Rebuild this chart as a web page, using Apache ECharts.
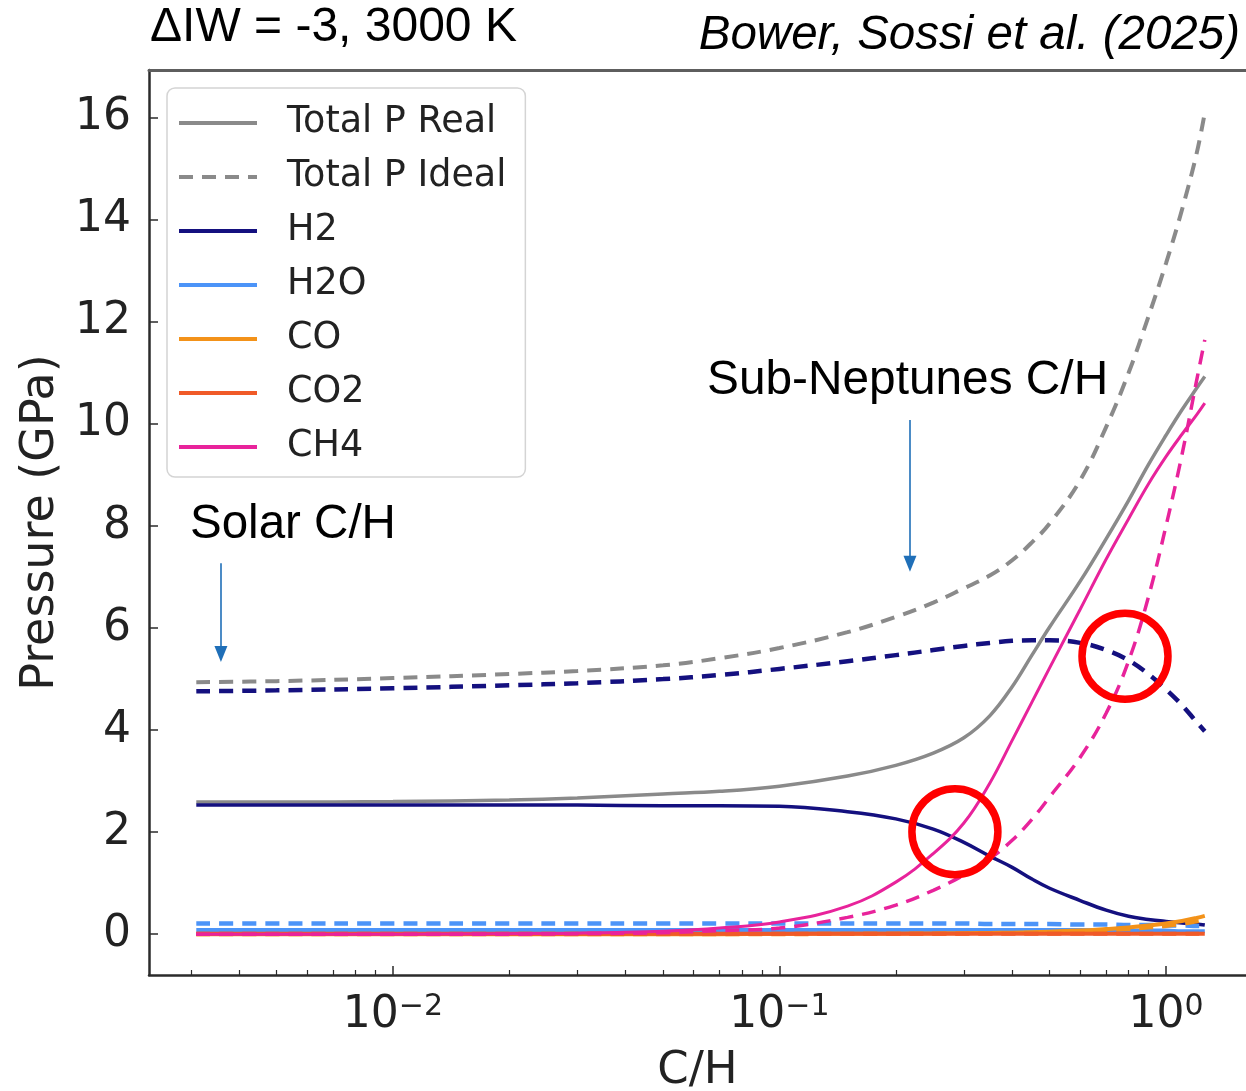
<!DOCTYPE html>
<html>
<head>
<meta charset="utf-8">
<script src="https://cdn.jsdelivr.net/npm/echarts@6/dist/echarts.min.js"></script>
<style>
  html, body { margin: 0; padding: 0; background: #ffffff; }
  #chart { width: 1246px; height: 1091px; }
</style>
</head>
<body>
<div id="chart"></div>
<script>
// C/H ratio sampled along the x axis
const chRatio = [0.0031, 0.005, 0.01, 0.02, 0.03, 0.05, 0.07, 0.1, 0.15, 0.2, 0.25, 0.3,
                 0.35, 0.4, 0.45, 0.5, 0.6, 0.7, 0.8, 0.9, 1.0, 1.1, 1.2, 1.26];

// Pressures in GPa (real gas = solid, ideal gas = dashed)
const totalReal  = [2.59, 2.59, 2.60, 2.63, 2.67, 2.75, 2.80, 2.90, 3.10, 3.31, 3.55, 3.85,
                    4.28, 4.85, 5.47, 6.02, 6.92, 7.75, 8.50, 9.20, 9.78, 10.28, 10.70, 10.93];
const totalIdeal = [4.94, 4.96, 5.02, 5.10, 5.16, 5.27, 5.41, 5.61, 5.92, 6.22, 6.50, 6.78,
                    7.03, 7.33, 7.68, 8.05, 8.90, 9.94, 11.0, 12.1, 13.15, 14.2, 15.3, 16.1];
const h2Real     = [2.53, 2.53, 2.53, 2.53, 2.53, 2.52, 2.52, 2.51, 2.40, 2.26, 2.06, 1.80,
                    1.53, 1.31, 1.08, 0.90, 0.66, 0.47, 0.35, 0.29, 0.25, 0.22, 0.20, 0.18];
const h2Ideal    = [4.76, 4.78, 4.82, 4.88, 4.92, 5.00, 5.08, 5.20, 5.35, 5.47, 5.57, 5.65,
                    5.71, 5.75, 5.76, 5.76, 5.71, 5.57, 5.37, 5.10, 4.80, 4.49, 4.16, 3.98];
const h2oReal    = [0.08, 0.08, 0.08, 0.08, 0.08, 0.08, 0.08, 0.08, 0.08, 0.08, 0.08, 0.08,
                    0.08, 0.08, 0.08, 0.08, 0.08, 0.07, 0.07, 0.07, 0.07, 0.06, 0.06, 0.06];
const h2oIdeal   = [0.21, 0.21, 0.21, 0.21, 0.21, 0.21, 0.21, 0.21, 0.21, 0.21, 0.21, 0.21,
                    0.20, 0.20, 0.20, 0.20, 0.19, 0.19, 0.18, 0.18, 0.17, 0.17, 0.16, 0.16];
const coReal     = [0.00, 0.00, 0.00, 0.00, 0.00, 0.00, 0.00, 0.005, 0.01, 0.01, 0.015, 0.02,
                    0.025, 0.03, 0.04, 0.05, 0.07, 0.10, 0.13, 0.17, 0.21, 0.26, 0.32, 0.36];
const coIdeal    = [0.00, 0.00, 0.00, 0.00, 0.00, 0.00, 0.00, 0.00, 0.005, 0.01, 0.01, 0.015,
                    0.02, 0.025, 0.03, 0.04, 0.06, 0.08, 0.10, 0.13, 0.16, 0.20, 0.25, 0.28];
const co2Real    = [0.01, 0.01, 0.01, 0.01, 0.01, 0.01, 0.01, 0.01, 0.01, 0.01, 0.01, 0.01,
                    0.01, 0.01, 0.01, 0.01, 0.01, 0.01, 0.01, 0.01, 0.01, 0.01, 0.01, 0.01];
const co2Ideal   = [0.01, 0.01, 0.01, 0.01, 0.01, 0.01, 0.01, 0.01, 0.01, 0.01, 0.01, 0.01,
                    0.01, 0.01, 0.01, 0.01, 0.01, 0.01, 0.01, 0.01, 0.01, 0.01, 0.01, 0.01];
const ch4Real    = [0.00, 0.00, 0.00, 0.01, 0.02, 0.06, 0.12, 0.24, 0.55, 1.02, 1.58, 2.18,
                    2.96, 3.80, 4.55, 5.22, 6.37, 7.35, 8.14, 8.82, 9.36, 9.80, 10.18, 10.41];
const ch4Ideal   = [0.00, 0.00, 0.00, 0.00, 0.01, 0.03, 0.07, 0.12, 0.33, 0.57, 0.86, 1.16,
                    1.48, 1.84, 2.25, 2.69, 3.47, 4.33, 5.35, 6.60, 8.00, 9.40, 10.85, 11.65];

// Axis ticks
const yTicks = [0, 2, 4, 6, 8, 10, 12, 14, 16];
const xMajorTicks = [0.01, 0.1, 1];
const xMinorTicks = [0.003, 0.004, 0.005, 0.006, 0.007, 0.008, 0.009,
                     0.02, 0.03, 0.04, 0.05, 0.06, 0.07, 0.08, 0.09,
                     0.2, 0.3, 0.4, 0.5, 0.6, 0.7, 0.8, 0.9];

// Annotations: arrows (C/H, top pressure, tip pressure) and highlight circles
const arrowCH  = [0.00359, 0.2176];
const arrowTop = [7.27, 10.08];
const arrowTip = [5.49, 7.26];
const circleCH = [0.2844, 0.7834];
const circleP  = [2.01, 5.45];

const legendNames = ['Total P Real', 'Total P Ideal', 'H2', 'H2O', 'CO', 'CO2', 'CH4'];

const COLORS = {
  total: '#8a8a8a',
  h2: '#14107f',
  h2o: '#4c94f8',
  co: '#f39219',
  co2: '#f05a28',
  ch4: '#e8239b'
};

const lg = v => Math.log10(v);
const X_MIN = -2.631, X_MAX = 0.207;
const TICK_FONT = 'DejaVu Sans';
const ANNOT_FONT = '"Liberation Sans", Arial, sans-serif';

function toPoints(values) {
  return chRatio.map((c, i) => [lg(c), values[i]]);
}

function lineSeries(name, values, color, dashed, width) {
  return {
    type: 'line',
    name: name,
    data: toPoints(values),
    xAxisIndex: 0,
    yAxisIndex: 0,
    symbol: 'none',
    smooth: 0.4,
    silent: true,
    emphasis: { disabled: true },
    lineStyle: { color: color, width: width, type: dashed ? [14, 9] : 'solid', cap: 'butt' },
    itemStyle: { color: color }
  };
}

const series = [
  lineSeries('Total P Real',  totalReal,  COLORS.total, false, 3.5),
  lineSeries('Total P Ideal', totalIdeal, COLORS.total, true,  4),
  lineSeries('H2',            h2Real,     COLORS.h2,    false, 3.5),
  lineSeries('H2 (ideal)',    h2Ideal,    COLORS.h2,    true,  4.5),
  lineSeries('H2O',           h2oReal,    COLORS.h2o,   false, 4),
  lineSeries('H2O (ideal)',   h2oIdeal,   COLORS.h2o,   true,  4.5),
  lineSeries('CO',            coReal,     COLORS.co,    false, 4),
  lineSeries('CO (ideal)',    coIdeal,    COLORS.co,    true,  4),
  lineSeries('CO2',           co2Real,    COLORS.co2,   false, 4),
  lineSeries('CO2 (ideal)',   co2Ideal,   COLORS.co2,   true,  4),
  lineSeries('CH4',           ch4Real,    COLORS.ch4,   false, 3),
  lineSeries('CH4 (ideal)',   ch4Ideal,   COLORS.ch4,   true,  3.5),
  {
    type: 'scatter',
    name: 'highlights',
    xAxisIndex: 0,
    yAxisIndex: 0,
    silent: true,
    z: 5,
    symbol: 'circle',
    symbolSize: 86,
    emphasis: { disabled: true },
    itemStyle: { color: 'rgba(255,255,255,0)', borderColor: '#ff0000', borderWidth: 7.5, opacity: 1 },
    data: circleCH.map((c, i) => [lg(c), circleP[i]]),
    markLine: {
      silent: true,
      animation: false,
      symbol: ['none', 'triangle'],
      symbolSize: [13, 16],
      label: { show: false },
      emphasis: { disabled: true },
      lineStyle: { color: '#1f6fb8', width: 1.6, type: 'solid', opacity: 1 },
      data: arrowCH.map((c, i) => [
        { coord: [lg(c), arrowTop[i]] },
        { coord: [lg(c), arrowTip[i]] }
      ])
    }
  }
];

const supMap = { '-2': '−2', '-1': '−1', '0': '0' };

const option = {
  animation: false,
  backgroundColor: '#ffffff',
  grid: { left: 149, right: 0, top: 70, bottom: 116, containLabel: false, outerBoundsMode: 'none' },
  xAxis: [
    {
      type: 'value',
      position: 'bottom',
      min: X_MIN,
      max: X_MAX,
      axisLine: { show: true, onZero: false, lineStyle: { color: '#2b2b2b', width: 2.5 } },
      axisTick: {
        show: true, inside: true, length: 9,
        customValues: xMajorTicks.map(lg),
        lineStyle: { color: '#2b2b2b', width: 1.5 }
      },
      axisLabel: {
        show: true,
        margin: 17,
        customValues: xMajorTicks.map(lg),
        formatter: v => '{b|10}{s|' + supMap[String(Math.round(v))] + '}',
        rich: {
          b: { fontFamily: TICK_FONT, fontSize: 44, lineHeight: 48, color: '#222' },
          s: { fontFamily: TICK_FONT, fontSize: 30, lineHeight: 18, verticalAlign: 'top', color: '#222' }
        }
      },
      splitLine: { show: false },
      name: 'C/H',
      nameLocation: 'middle',
      nameGap: 74,
      nameTextStyle: { fontFamily: TICK_FONT, fontSize: 45, color: '#222' }
    },
    {
      type: 'value',
      position: 'bottom',
      min: X_MIN,
      max: X_MAX,
      axisLine: { show: false, onZero: false },
      axisTick: {
        show: true, inside: true, length: 5,
        customValues: xMinorTicks.map(lg),
        lineStyle: { color: '#2b2b2b', width: 1.2 }
      },
      axisLabel: { show: false },
      splitLine: { show: false }
    },
    {
      type: 'value',
      position: 'top',
      min: X_MIN,
      max: X_MAX,
      axisLine: { show: true, onZero: false, lineStyle: { color: '#5e5e5e', width: 3 } },
      axisTick: { show: false },
      axisLabel: { show: false },
      splitLine: { show: false }
    }
  ],
  yAxis: {
    type: 'value',
    min: -0.8,
    max: 16.94,
    axisLine: { show: true, onZero: false, lineStyle: { color: '#2b2b2b', width: 2.5 } },
    axisTick: {
      show: true, inside: true, length: 9,
      customValues: yTicks,
      lineStyle: { color: '#2b2b2b', width: 1.5 }
    },
    axisLabel: {
      customValues: yTicks,
      margin: 18,
      fontFamily: TICK_FONT,
      fontSize: 44,
      color: '#222'
    },
    splitLine: { show: false },
    name: 'Pressure (GPa)',
    nameLocation: 'middle',
    nameRotate: 90,
    nameGap: 85,
    nameTextStyle: { fontFamily: TICK_FONT, fontSize: 46, color: '#222' }
  },
  legend: {
    data: legendNames,
    orient: 'vertical',
    left: 167,
    top: 88,
    itemWidth: 78,
    itemHeight: 20,
    itemGap: 14,
    padding: [15, 19, 10, 10],
    selectedMode: false,
    backgroundColor: '#ffffff',
    borderColor: '#d4d4d4',
    borderWidth: 1.5,
    borderRadius: 8,
    lineStyle: { width: 4 },
    itemStyle: { color: 'rgba(0,0,0,0)', borderWidth: 0 },
    textStyle: {
      fontFamily: TICK_FONT,
      fontSize: 36.5,
      lineHeight: 40,
      color: '#222',
      padding: [0, 0, 0, 25]
    }
  },
  graphic: [
    {
      type: 'text', x: 150, y: 28, silent: true,
      style: { text: 'ΔIW = -3, 3000 K', font: '48px ' + ANNOT_FONT, fill: '#000',
               textAlign: 'left', textVerticalAlign: 'middle' }
    },
    {
      type: 'text', x: 1240, y: 36, silent: true,
      style: { text: 'Bower, Sossi et al. (2025)', font: 'italic 47.5px ' + ANNOT_FONT, fill: '#000',
               textAlign: 'right', textVerticalAlign: 'middle' }
    },
    {
      type: 'text', x: 707, y: 381, silent: true, z: 10,
      style: { text: 'Sub-Neptunes C/H', font: '47.8px ' + ANNOT_FONT, fill: '#000',
               textAlign: 'left', textVerticalAlign: 'middle' }
    },
    {
      type: 'text', x: 190, y: 525, silent: true, z: 10,
      style: { text: 'Solar C/H', font: '47.5px ' + ANNOT_FONT, fill: '#000',
               textAlign: 'left', textVerticalAlign: 'middle' }
    }
  ],
  series: series
};

const chart = echarts.init(document.getElementById('chart'), null, { renderer: 'canvas' });
chart.setOption(option);
</script>
</body>
</html>
